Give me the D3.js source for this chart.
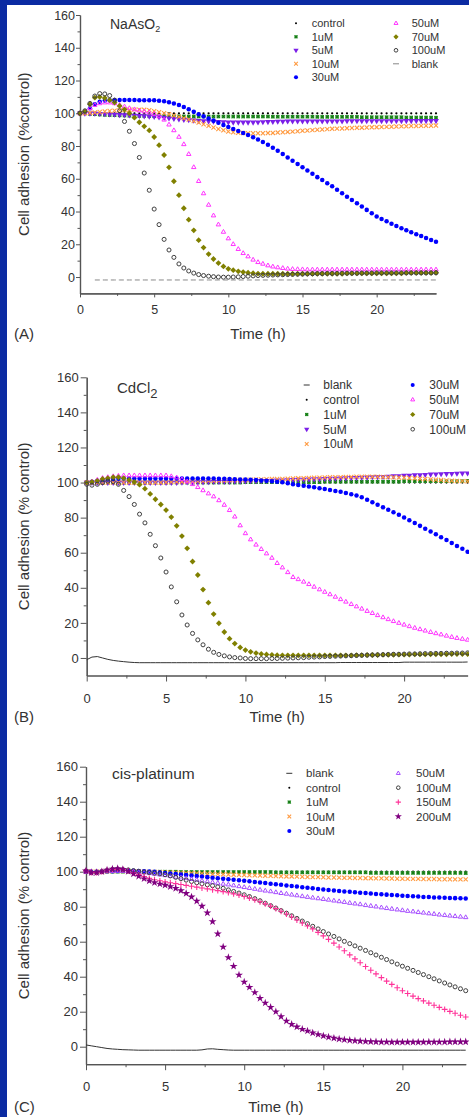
<!DOCTYPE html>
<html><head><meta charset="utf-8">
<script src="https://cdn.jsdelivr.net/npm/d3@7"></script>
<style>
html,body{margin:0;padding:0;background:#0b2ba2;}
svg{display:block;}
text{font-family:"Liberation Sans",Arial,sans-serif;}
</style></head><body>
<svg id="c" width="469" height="1117"></svg>
<script>
// ---------------- DATA ----------------
const TIMES = [0,0.33,0.67,1,1.33,1.67,2,2.33,2.67,3,3.33,3.67,4,4.33,4.67,5,5.33,5.67,6,6.33,6.67,7,7.33,7.67,8,8.33,8.67,9,9.33,9.67,10,10.33,10.67,11,11.33,11.67,12,12.33,12.67,13,13.33,13.67,14,14.33,14.67,15,15.33,15.67,16,16.33,16.67,17,17.33,17.67,18,18.33,18.67,19,19.33,19.67,20,20.33,20.67,21,21.33,21.67,22,22.33,22.67,23,23.33,23.67,24];
const X_TICKS = [0,5,10,15,20];
const X_MINOR = [2.5,7.5,12.5,17.5,22.5];
const Y_TICKS = [0,20,40,60,80,100,120,140,160];
const Y_MINOR = [10,30,50,70,90,110,130,150];

// Panel A: NaAsO2
const A_CONTROL = [100,100,100, 100,100,100, 100,100,100, 100,100,100, 100,100,100, 100,100,100, 100,100,100, 100,100,100, 100,100,100, 100,100,100, 100,100,100, 100,100,100, 100,100,100, 100,100,100, 100,100,100, 100,100,100, 100,100,100, 100,100,100, 100,100,100, 100,100,100, 100,100,100, 100,100,100, 100,100,100, 100,100,100, 100];
const A_1UM = [100,100,99.6, 99.4,99.2,99, 98.9,98.8,98.7, 98.6,98.5,98.5, 98.4,98.4,98.3, 98.3,98.2,98.2, 98.1,98.1,98.1, 98,98,98, 98,98,98, 98,98,98, 98,98,98, 98,98,98, 98,98,98, 97.9,97.9,97.9, 97.9,97.9,97.9, 97.9,97.9,97.9, 97.8,97.8,97.8, 97.8,97.8,97.8, 97.8,97.8,97.8, 97.6,97.6,97.6, 97.6,97.6,97.6, 97.6,97.6,97.6, 97.4,97.4,97.4, 97.4,97.4,97.4, 97.3];
const A_5UM = [100,100,100, 100,99.8,99.6, 99.5,99.3,99.1, 99,98.8,98.6, 98.5,98.3,98.1, 98,97.7,97.4, 97,96.7,96.4, 96.1,95.9,95.7, 95.5,95.3,95.1, 95,94.8,94.7, 94.6,94.5,94.5, 94.5,94.5,94.5, 94.6,94.7,94.8, 94.9,95,95, 95.2,95.2,95.2, 95.2,95.2,95.2, 95.2,95.2,95.2, 95.2,95.2,95.2, 95.3,95.3,95.3, 95.3,95.3,95.3, 95.3,95.3,95.3, 95.3,95.3,95.3, 95.4,95.4,95.4, 95.4,95.4,95.4, 95.4];
const A_10UM = [100,100,100.2, 100.5,100.8,101.1, 101.4,101.6,101.8, 102,102.1,102.2, 102.2,102.1,101.9, 101.3,100.7,100.1, 99.4,98.6,97.8, 97,96.2,95.3, 94.3,93.3,92.3, 91.3,90.4,89.6, 88.9,88.4,88.1, 87.9,87.8,87.8, 87.8,87.8,87.9, 88,88.2,88.4, 88.6,88.8,89, 89.3,89.5,89.7, 89.9,90.1,90.3, 90.5,90.6,90.7, 90.9,91,91.1, 91.2,91.3,91.4, 91.5,91.6,91.7, 91.8,91.9,92, 92.1,92.2,92.2, 92.3,92.4,92.4, 92.5];
const A_30UM = [100,101,103, 105.5,107,107.8, 108,108.1,108.1, 108.1,108.1,108.1, 108,108,108, 107.9,107.7,107.3, 106.7,106,105, 103.8,102.4,100.9, 99.4,98.1,96.8, 95.5,94.2,92.9, 91.6,90.4,89.2, 88,86.7,85.4, 84,82.4,80.7, 79,77.1,75.1, 73,71,69, 67,65,63, 61,59.2,57.3, 55.5,53.3,51.2, 49,47,45, 43,41,39, 37,35.5,34, 32.5,31.2,29.8, 28.5,27.3,26.1, 25,23.8,22.6, 21.5];
const A_50UM = [100,101,103, 105,106,106.5, 106.5,106,105, 104,103,102.3, 101.6,101,100.4, 99.5,98,96, 93,89.5,85.5, 81,75,67, 58.5,51,44, 37.5,32,27.5, 23.5,20,17, 14.5,12.5,10.5, 9,8,7, 6.3,5.8,5.4, 5,4.8,4.7, 4.6,4.5,4.5, 4.5,4.5,4.5, 4.5,4.5,4.5, 4.5,4.5,4.5, 4.5,4.5,4.5, 4.5,4.5,4.5, 4.5,4.5,4.5, 4.5,4.5,4.5, 4.5,4.5,4.5, 4.5];
const A_70UM = [100,101,105.5, 109.5,110,109.3, 108,106.5,104.5, 102.3,100,97.3, 94.5,92,89.5, 85.5,80.5,74.5, 67,58.5,50, 42,35,28.5, 22.5,18,14, 11,8.5,6.5, 5,4.2,3.5, 3,2.6,2.3, 2.1,2,2, 2,2,2, 2,2,2, 2,2,2, 2,2,2, 2,2,2, 2.2,2.2,2.2, 2.2,2.2,2.2, 2.2,2.2,2.2, 2.2,2.2,2.2, 2.5,2.5,2.5, 2.5,2.5,2.5, 2.6];
const A_100UM = [100,101.5,106, 110.5,112,111.8, 110.8,108,101.5, 95,89,81.5, 73,63.5,53, 41.5,32,23, 16.5,12,8, 5.5,3.7,2.4, 1.5,0.9,0.5, 0.2,0,-0.1, -0.1,0,0.1, 0.3,0.5,0.7, 0.9,1,1.1, 1.2,1.3,1.4, 1.5,1.6,1.7, 1.8,1.9,2, 2.1,2.1,2.2, 2.2,2.2,2.3, 2.3,2.3,2.3, 2.4,2.4,2.4, 2.5,2.5,2.5, 2.5,2.5,2.5, 2.5,2.5,2.5, 2.5,2.5,2.5, 2.6];
const A_BLANK = [null,null,null, -1.8,-1.8,-1.8, -1.8,-1.8,-1.8, -1.8,-1.8,-1.8, -1.8,-1.8,-1.8, -1.8,-1.8,-1.8, -1.8,-1.8,-1.8, -1.8,-1.8,-1.8, -1.8,-1.8,-1.8, -1.8,-1.8,-1.8, -1.8,-1.8,-1.8, -1.8,-1.8,-1.8, -1.8,-1.8,-1.8, -1.8,-1.8,-1.8, -1.8,-1.8,-1.8, -1.8,-1.8,-1.8, -1.8,-1.8,-1.8, -1.8,-1.8,-1.8, -1.8,-1.8,-1.8, -1.8,-1.8,-1.8, -1.8,-1.8,-1.8, -1.8,-1.8,-1.8, -1.8,-1.8,-1.8, -1.8,-1.8,-1.8, -1.8];

// Panel B: CdCl2
const B_BLANK = [-1,0.5,0.8, 0,-0.8,-1.4, -1.8,-2.1,-2.4, -2.6,-2.7,-2.7, -2.7,-2.7,-2.7, -2.7,-2.7,-2.7, -2.7,-2.7,-2.7, -2.7,-2.7,-2.7, -2.7,-2.7,-2.7, -2.7,-2.7,-2.7, -2.7,-2.7,-2.7, -2.7,-2.7,-2.7, -2.7,-2.7,-2.7, -2.7,-2.7,-2.7, -2.7,-2.7,-2.7, -2.7,-2.7,-2.7, -2.6,-2.6,-2.6, -2.6,-2.6,-2.6, -2.6,-2.6,-2.6, -2.6,-2.6,-2.6, -2.4,-2.4,-2.4, -2.4,-2.4,-2.4, -2.4,-2.4,-2.4, -2.4,-2.4,-2.4, -2.3];
const B_CONTROL = [100,100,100, 100,100,100, 100,100,100, 100,100,100, 100,100,100, 100,100,100, 100,100,100, 100,100,100, 100,100,100, 100,100,100, 100,100,100, 100,100,100, 100,100,100, 100,100,100, 100,100,100, 100,100,100, 100,100,100, 100,100,100, 100,100,100, 100,100,100, 100,100,100, 100,100,100, 100,100,100, 100,100,100, 100];
const B_1UM = [100,100,100, 100,100,100, 100,100,100, 100,100,100, 100,100,100, 100,100,100, 100,100,100, 100,100,100, 100,100,100, 100,100,100, 100.2,100.2,100.2, 100.2,100.2,100.2, 100.2,100.2,100.2, 100.2,100.2,100.2, 100.2,100.2,100.2, 100.5,100.5,100.5, 100.5,100.5,100.5, 100.5,100.5,100.5, 100.5,100.5,100.5, 100.5,100.5,100.5, 100.8,100.8,100.8, 100.8,100.8,100.8, 100.8,100.8,100.8, 100.8,100.8,100.8, 101];
const B_5UM = [100,100,100, 100,100,100, 100,100,100, 100,100,100, 100,100,100, 100,100,100, 100.1,100.2,100.2, 100.3,100.3,100.4, 100.5,100.5,100.6, 100.6,100.7,100.7, 100.8,100.9,101, 101,101.1,101.2, 101.3,101.4,101.5, 101.6,101.7,101.8, 101.9,102,102.1, 102.2,102.3,102.4, 102.5,102.6,102.7, 102.8,102.9,103, 103.2,103.3,103.4, 103.5,103.7,103.8, 104,104.1,104.3, 104.4,104.5,104.7, 104.8,104.9,105, 105.1,105.2,105.3, 105.4];
const B_10UM = [100,100,100, 100,100,100, 100,100,100, 100,100,100, 100,100,100, 100.2,100.3,100.4, 100.5,100.6,100.7, 100.8,100.9,101, 101,101.1,101.2, 101.3,101.4,101.5, 101.5,101.6,101.7, 101.8,101.9,102, 102,102.1,102.2, 102.3,102.4,102.5, 102.6,102.7,102.8, 102.9,103,103, 103.1,103.2,103.2, 103.3,103.3,103.3, 103.3,103.3,103.2, 103.1,103,102.9, 102.8,102.6,102.4, 102.2,102,101.8, 101.6,101.4,101.2, 101,100.9,100.8, 100.7];
const B_30UM = [100,100.5,101, 101.5,101.8,102, 102.2,102.3,102.3, 102.3,102.3,102.3, 102.3,102.3,102.3, 102.3,102.3,102.3, 102.3,102.3,102.3, 102.3,102.3,102.3, 102.3,102.2,102.1, 102,101.9,101.8, 101.7,101.6,101.4, 101.2,101,100.8, 100.5,100.2,99.6, 99,98.6,98.2, 97.8,97.3,96.8, 96.3,95.7,95.2, 94.7,94,93.3, 92.6,91.6,90.2, 88.8,87.4,85.9, 84.5,83.1,81.6, 80.1,78.5,76.9, 75.3,73.7,72.1, 70.5,68.8,67.2, 65.5,63.8,62.2, 60.5];
const B_50UM = [100,100.5,101.5, 102.5,103,103.5, 103.8,104,104, 104,104,104, 104,104,104, 104,103.5,102.8, 101.8,100.5,99, 97.3,95.5,93.7, 92,89.8,87.2, 84.2,80.5,75.5, 71,67.5,64.5, 62,59.5,57, 54,51.5,48.8, 46,44.8,43.4, 42,40.5,39, 37.6,36.2,34.8, 33.4,32,30.6, 29.3,28,26.7, 25.5,24.3,23.1, 22,20.9,19.9, 18.9,18,17.1, 16.3,15.5,14.7, 14,13.3,12.6, 11.9,11.3,10.8, 10.3];
const B_70UM = [100,100.3,101, 102,102.5,103, 103,102.5,101.5, 100.3,98.8,96.5, 93.5,90.5,87.5, 84.3,80.3,75.3, 69.5,62.5,55, 47.3,39,31.5, 25,19.8,14.8, 11,8.2,6, 4.5,3.5,2.8, 2.3,2,1.8, 1.6,1.5,1.5, 1.5,1.5,1.5, 1.5,1.5,1.5, 1.5,1.5,1.5, 1.5,1.5,1.5, 1.6,1.6,1.7, 1.7,1.7,1.8, 1.8,1.8,1.9, 1.9,1.9,2, 2,2,2.1, 2.1,2.1,2.1, 2.2,2.2,2.2, 2.2];
const B_100UM = [99,98.5,99, 100,100.8,100.5, 99,95.5,92, 87.5,82,77, 70.5,64,57, 49,40.5,32, 24.5,18.8,14, 10.3,7.5,5, 3.2,2,1.2, 0.6,0.2,0, -0.3,-0.4,-0.4, -0.4,-0.4,-0.3, -0.3,-0.2,-0.1, 0,0.1,0.2, 0.4,0.5,0.6, 0.8,0.9,1, 1.1,1.2,1.3, 1.4,1.5,1.6, 1.7,1.8,1.9, 2,2.1,2.1, 2.2,2.3,2.3, 2.4,2.5,2.5, 2.6,2.6,2.7, 2.7,2.8,2.8, 2.9];

// Panel C: cis-platinum
const C_BLANK = [1,0.5,0, -0.5,-1,-1.3, -1.5,-1.7,-1.8, -1.9,-2,-2, -2,-2,-2, -2,-2,-2, -2,-2,-2, -2,-1.8,-1.3, -1.2,-1.5,-1.7, -1.9,-2,-2, -2,-2,-2, -2,-2,-2, -2,-2,-2, -2,-2,-2, -2,-2,-2, -2,-2,-2, -2,-2,-2, -2,-2,-2, -2,-2,-2, -2,-2,-2, -2,-2,-2, -2,-2,-2, -2,-2,-2, -2,-2,-2, -2];
const C_CONTROL = [100,100,100, 100,100,100, 100,100,100, 100,100,100, 100,100,100, 100,100,100, 100,100,100, 100,100,100, 100,100,100, 100,100,100, 100,100,100, 100,100,100, 100,100,100, 100,100,100, 100,100,100, 100,100,100, 100,100,100, 100,100,100, 100,100,100, 100,100,100, 100,100,100, 100,100,100, 100,100,100, 100,100,100, 100];
const C_1UM = [100,100,100, 100,100,100, 100,100,100, 100,100,100, 100,100,100, 100,100,100, 99.8,99.8,99.8, 99.8,99.8,99.8, 99.8,99.8,99.8, 99.8,99.8,99.8, 99.8,99.8,99.8, 99.8,99.8,99.8, 99.6,99.6,99.6, 99.6,99.6,99.6, 99.6,99.6,99.6, 99.6,99.6,99.6, 99.6,99.6,99.6, 99.6,99.6,99.6, 99.3,99.3,99.3, 99.3,99.3,99.3, 99.3,99.3,99.3, 99.3,99.3,99.3, 99.3,99.3,99.3, 99.3,99.3,99.3, 99.2];
const C_10UM = [100,100,100, 100,100.2,100.3, 100.4,100.4,100.3, 100.2,100.1,100, 99.9,99.8,99.7, 99.6,99.5,99.4, 99.3,99.2,99.1, 99,98.9,98.8, 98.7,98.6,98.5, 98.4,98.3,98.2, 98.1,98,97.9, 97.8,97.7,97.6, 97.5,97.4,97.3, 97.3,97.2,97.1, 97,96.9,96.9, 96.8,96.7,96.7, 96.6,96.5,96.5, 96.4,96.4,96.3, 96.3,96.2,96.2, 96.1,96.1,96, 96,95.9,95.9, 95.9,95.8,95.8, 95.8,95.7,95.7, 95.7,95.6,95.6, 95.6];
const C_30UM = [100,100,100, 100.1,100.2,100.3, 100.4,100.5,100.5, 100.5,100.4,100.3, 100.1,99.9,99.6, 99.3,99,98.7, 98.4,98.1,97.8, 97.5,97.2,96.9, 96.6,96.3,96, 95.7,95.4,95.1, 94.8,94.5,94.1, 93.8,93.5,93.1, 92.8,92.5,92.1, 91.8,91.5,91.1, 90.8,90.5,90.1, 89.8,89.5,89.2, 89,88.7,88.5, 88.2,88,87.8, 87.5,87.3,87.1, 86.9,86.7,86.5, 86.3,86.1,86, 85.8,85.6,85.5, 85.3,85.2,85.1, 85,84.9,84.8, 84.7];
const C_50UM = [100,100,100, 100.1,100.2,100.3, 100.4,100.4,100.3, 100.1,99.8,99.5, 99.1,98.7,98.3, 97.9,97.5,97, 96.6,96.2,95.7, 95.3,94.8,94.4, 93.9,93.5,93, 92.6,92.1,91.6, 91.1,90.6,90.1, 89.6,89.1,88.7, 88.2,87.7,87.3, 86.8,86.4,85.9, 85.5,85.1,84.7, 84.3,83.9,83.4, 83,82.6,82.1, 81.7,81.3,80.8, 80.4,80,79.5, 79.1,78.7,78.3, 77.9,77.5,77.2, 76.8,76.5,76.1, 75.8,75.4,75.1, 74.8,74.5,74.2, 73.9];
const C_100UM = [100.5,99.5,99.5, 100,100.8,101.3, 101.5,101.3,101, 100.6,100.2,99.8, 99.5,99.2,98.8, 98.3,97.6,96.8, 96,95.2,94.4, 93.7,93.1,92.5, 92,91.3,90.5, 89.6,88.7,87.8, 86.8,85.8,84.6, 83.4,82,80.6, 79.2,77.8,76.3, 74.8,73.3,71.8, 70.3,68.8,67.3, 65.8,64.4,63, 61.6,60.2,58.9, 57.6,56.3,55, 53.7,52.4,51.1, 49.8,48.5,47.2, 46,44.8,43.6, 42.4,41.2,40, 38.8,37.6,36.4, 35.3,34.2,33.1, 32];
const C_150UM = [100.5,99.5,99.5, 100,100.8,101.3, 101.5,101.2,100.5, 99.5,98.3,97.2, 96.2,95.4,94.8, 94.2,93.7,93.2, 92.7,92.2,91.7, 91.2,90.7,90.2, 89.7,89.2,88.6, 88,87.3,86.6, 85.8,84.9,83.9, 82.8,81.6,80.3, 78.9,77.4,75.8, 74.1,72.4,70.7, 69,67.3,65.3, 63.3,61.3,59.2, 57,54.8,52.5, 50.2,48,45.8, 43.7,41.6,39.5, 37.5,35.6,33.7, 32,30.4,28.9, 27.5,26.2,24.9, 23.7,22.5,21.3, 20.2,19.1,18, 17];
const C_200UM = [100.5,99.5,99.5, 100,101,101.5, 101.8,101.3,100.2, 98.8,97.4,96, 94.8,93.8,93, 92.3,91.5,90.5, 89.2,87.6,85.6, 83.2,80.3,76.5, 71.5,64.5,57, 51,46,41, 37,34,31, 27.7,25,22.5, 20,17.2,14.7, 12.8,11.3,10, 9,7.9,7, 6.2,5.5,4.9, 4.4,4,3.7, 3.4,3.2,3, 2.9,2.8,2.7, 2.7,2.6,2.6, 2.6,2.6,2.6, 2.6,2.6,2.7, 2.7,2.7,2.7, 2.8,2.8,2.8, 2.8];

// ---------------- DRAWING ----------------
const svg = d3.select('#c');
svg.append('rect').attr('x',7).attr('y',5).attr('width',462).attr('height',1112).attr('fill','#fff');

const STY = {
  control: {kind:'dot', color:'#000'},
  u1: {kind:'square', color:'#2a9a2a'},
  u5: {kind:'tridown', color:'#7b1fe8'},
  u10: {kind:'times', color:'#ff9a40'},
  u30: {kind:'circle', color:'#0000ff'},
  u50: {kind:'triopen', color:'#ff33ff'},
  u50c: {kind:'triopen', color:'#a64dff'},
  u70: {kind:'diamond', color:'#808000'},
  u100: {kind:'ocircle', color:'#404040'},
  u150: {kind:'plus', color:'#ff3399'},
  u200: {kind:'star', color:'#800080'},
  blankA: {kind:'line', color:'#888', dash:'5,3'},
  blank: {kind:'line', color:'#333'}
};

function drawMarker(sel, st, sc){
  sc = sc || 1;
  const k = st.kind;
  if(k==='dot'){ sel.append('path').attr('d', d3.symbol(d3.symbolCircle, 4*sc)()).attr('fill', st.color); }
  else if(k==='square'){ sel.append('path').attr('d', d3.symbol(d3.symbolSquare, 13*sc)()).attr('fill', st.color);
      sel.append('path').attr('d', d3.symbol(d3.symbolTimes, 7*sc)()).attr('stroke','#0b5a0b').attr('stroke-width',0.6).attr('fill','none'); }
  else if(k==='tridown'){ sel.append('path').attr('d', d3.symbol(d3.symbolTriangle, 15*sc)()).attr('transform','rotate(180)').attr('fill', st.color); }
  else if(k==='times'){ sel.append('path').attr('d', d3.symbol(d3.symbolTimes, 13*sc)()).attr('fill','none').attr('stroke', st.color).attr('stroke-width',1.1); }
  else if(k==='circle'){ sel.append('path').attr('d', d3.symbol(d3.symbolCircle, 16*sc)()).attr('fill', st.color); }
  else if(k==='triopen'){ sel.append('path').attr('d', d3.symbol(d3.symbolTriangle2, 14*sc)()).attr('fill','none').attr('stroke', st.color).attr('stroke-width',1); }
  else if(k==='diamond'){ sel.append('path').attr('d', d3.symbol(d3.symbolSquare, 17*sc)()).attr('transform','rotate(45)').attr('fill', st.color); }
  else if(k==='ocircle'){ sel.append('path').attr('d', d3.symbol(d3.symbolCircle, 13*sc)()).attr('fill','none').attr('stroke', st.color).attr('stroke-width',1); }
  else if(k==='plus'){ sel.append('path').attr('d', d3.symbol(d3.symbolPlus, 13*sc)()).attr('fill','none').attr('stroke', st.color).attr('stroke-width',1.1); }
  else if(k==='star'){ sel.append('path').attr('d', d3.symbol(d3.symbolStar, 20*sc)()).attr('fill', st.color); }
  else if(k==='line'){ sel.append('line').attr('x1',-3).attr('x2',3).attr('stroke', st.color).attr('stroke-width',1); }
}

function drawPanel(cfg){
  const g = svg.append('g');
  const x = d3.scaleLinear().domain([0,24]).range([cfg.x0, cfg.x1]);
  const y = d3.scaleLinear().domain([-10,160]).range([cfg.yb, cfg.yt]);
  const fs = cfg.tickFont;

  g.append('g').attr('transform',`translate(${cfg.x0},0)`)
    .call(d3.axisLeft(y).tickValues(Y_TICKS).tickSize(cfg.tl).tickSizeOuter(0).tickPadding(cfg.tp));
  g.append('g').attr('transform',`translate(${cfg.x0},0)`)
    .call(d3.axisLeft(y).tickValues(Y_MINOR).tickSize(cfg.tm).tickSizeOuter(0).tickFormat(''));
  g.append('g').attr('transform',`translate(0,${cfg.yb})`)
    .call(d3.axisBottom(x).tickValues(X_TICKS).tickSize(cfg.tl).tickSizeOuter(0).tickPadding(cfg.xp));
  g.append('g').attr('transform',`translate(0,${cfg.yb})`)
    .call(d3.axisBottom(x).tickValues(X_MINOR).tickSize(cfg.tm).tickSizeOuter(0).tickFormat(''));
  g.selectAll('.domain').attr('stroke','#555').attr('stroke-width',1.2);
  g.selectAll('.tick line').attr('stroke','#555').attr('stroke-width',1);
  g.selectAll('.tick text').attr('fill','#333').style('font-size', fs+'px').style('font-family','"Liberation Sans",Arial,sans-serif');

  g.append('text').attr('x',(cfg.x0+cfg.x1)/2).attr('y',cfg.yb+cfg.tyOff).attr('text-anchor','middle')
    .style('font-size','15px').attr('fill','#333').text('Time (h)');
  g.append('text').attr('x',14).attr('y',cfg.yb+cfg.tyOff).style('font-size','15px').attr('fill','#333').text(cfg.letter);
  g.append('text').attr('transform',`translate(28.5,${(cfg.yt+cfg.yb)/2}) rotate(-90)`).attr('text-anchor','middle')
    .style('font-size','15px').attr('fill','#333').text(cfg.ytitle);

  const tt = g.append('text').attr('x',cfg.titleX).attr('y',cfg.titleY).style('font-size',cfg.titleFs+'px').attr('fill','#333');
  tt.append('tspan').text(cfg.title);
  if(cfg.sub){ tt.append('tspan').attr('dy',cfg.subDy).style('font-size',cfg.subFs+'px').text(cfg.sub); }

  const plot = g.append('g');
  cfg.series.forEach(s => {
    const pts = TIMES.map((t,i)=>({t:t, v:s.data[i]})).filter(d => d.v !== null && d.v !== undefined);
    if(s.st.kind==='line'){
      plot.append('path').datum(pts)
        .attr('d', d3.line().x(d=>x(d.t)).y(d=>y(d.v)))
        .attr('fill','none').attr('stroke', s.st.color).attr('stroke-width',1)
        .attr('stroke-dasharray', s.st.dash || null);
    } else {
      const mg = plot.append('g');
      pts.forEach(d => {
        const m = mg.append('g').attr('transform',`translate(${x(d.t)},${y(d.v)})`);
        drawMarker(m, s.st);
      });
    }
  });

  const lg = g.append('g');
  cfg.legend.forEach((col, ci) => {
    col.forEach((item, ri) => {
      const yy = cfg.legY + ri*cfg.legDy;
      const m = lg.append('g').attr('transform',`translate(${cfg.legMX[ci]},${yy})`);
      drawMarker(m, item.st, 0.8);
      lg.append('text').attr('x',cfg.legTX[ci]).attr('y',yy+cfg.legFs*0.36).style('font-size',cfg.legFs+'px').attr('fill','#333').text(item.name);
    });
  });
}

drawPanel({
  x0:80, x1:436, yb:293.4, yt:15, tl:4, tm:2.5, tp:1, xp:8, tickFont:12.5, tyOff:46,
  letter:'(A)', ytitle:'Cell adhesion (%control)',
  title:'NaAsO', sub:'2', titleX:110, titleY:29, titleFs:14, subDy:3, subFs:9,
  series:[
    {data:A_CONTROL, st:STY.control},{data:A_1UM, st:STY.u1},{data:A_5UM, st:STY.u5},{data:A_10UM, st:STY.u10},
    {data:A_30UM, st:STY.u30},{data:A_50UM, st:STY.u50},{data:A_70UM, st:STY.u70},{data:A_100UM, st:STY.u100},
    {data:A_BLANK, st:STY.blankA}
  ],
  legend:[
    [{name:'control',st:STY.control},{name:'1uM',st:STY.u1},{name:'5uM',st:STY.u5},{name:'10uM',st:STY.u10},{name:'30uM',st:STY.u30}],
    [{name:'50uM',st:STY.u50},{name:'70uM',st:STY.u70},{name:'100uM',st:STY.u100},{name:'blank',st:STY.blankA}]
  ],
  legY:23.3, legDy:13.5, legMX:[296,396], legTX:[311.7,411.7], legFs:11
});

drawPanel({
  x0:86.7, x1:467.6, yb:675.5, yt:377.3, tl:6, tm:3, tp:2, xp:12, tickFont:13, tyOff:46.5,
  letter:'(B)', ytitle:'Cell adhesion (% control)',
  title:'CdCl', sub:'2', titleX:117, titleY:393, titleFs:15, subDy:5, subFs:13,
  series:[
    {data:B_BLANK, st:STY.blank},{data:B_CONTROL, st:STY.control},{data:B_1UM, st:STY.u1},{data:B_5UM, st:STY.u5},
    {data:B_10UM, st:STY.u10},{data:B_30UM, st:STY.u30},{data:B_50UM, st:STY.u50},{data:B_70UM, st:STY.u70},
    {data:B_100UM, st:STY.u100}
  ],
  legend:[
    [{name:'blank',st:STY.blank},{name:'control',st:STY.control},{name:'1uM',st:STY.u1},{name:'5uM',st:STY.u5},{name:'10uM',st:STY.u10}],
    [{name:'30uM',st:STY.u30},{name:'50uM',st:STY.u50},{name:'70uM',st:STY.u70},{name:'100uM',st:STY.u100}]
  ],
  legY:385, legDy:14.75, legMX:[306.7,412.7], legTX:[323.3,429.3], legFs:12
});

drawPanel({
  x0:86, x1:465.7, yb:1064.2, yt:766.7, tl:6, tm:3, tp:2, xp:12, tickFont:13, tyOff:47.5,
  letter:'(C)', ytitle:'Cell adhesion (% control)',
  title:'cis-platinum', sub:null, titleX:112, titleY:779, titleFs:15.5,
  series:[
    {data:C_BLANK, st:STY.blank},{data:C_CONTROL, st:STY.control},{data:C_1UM, st:STY.u1},{data:C_10UM, st:STY.u10},
    {data:C_30UM, st:STY.u30},{data:C_50UM, st:STY.u50c},{data:C_100UM, st:STY.u100},{data:C_150UM, st:STY.u150},
    {data:C_200UM, st:STY.u200}
  ],
  legend:[
    [{name:'blank',st:STY.blank},{name:'control',st:STY.control},{name:'1uM',st:STY.u1},{name:'10uM',st:STY.u10},{name:'30uM',st:STY.u30}],
    [{name:'50uM',st:STY.u50c},{name:'100uM',st:STY.u100},{name:'150uM',st:STY.u150},{name:'200uM',st:STY.u200}]
  ],
  legY:773.3, legDy:14.4, legMX:[289.3,398.3], legTX:[306,416], legFs:11.5
});
</script>
</body></html>
